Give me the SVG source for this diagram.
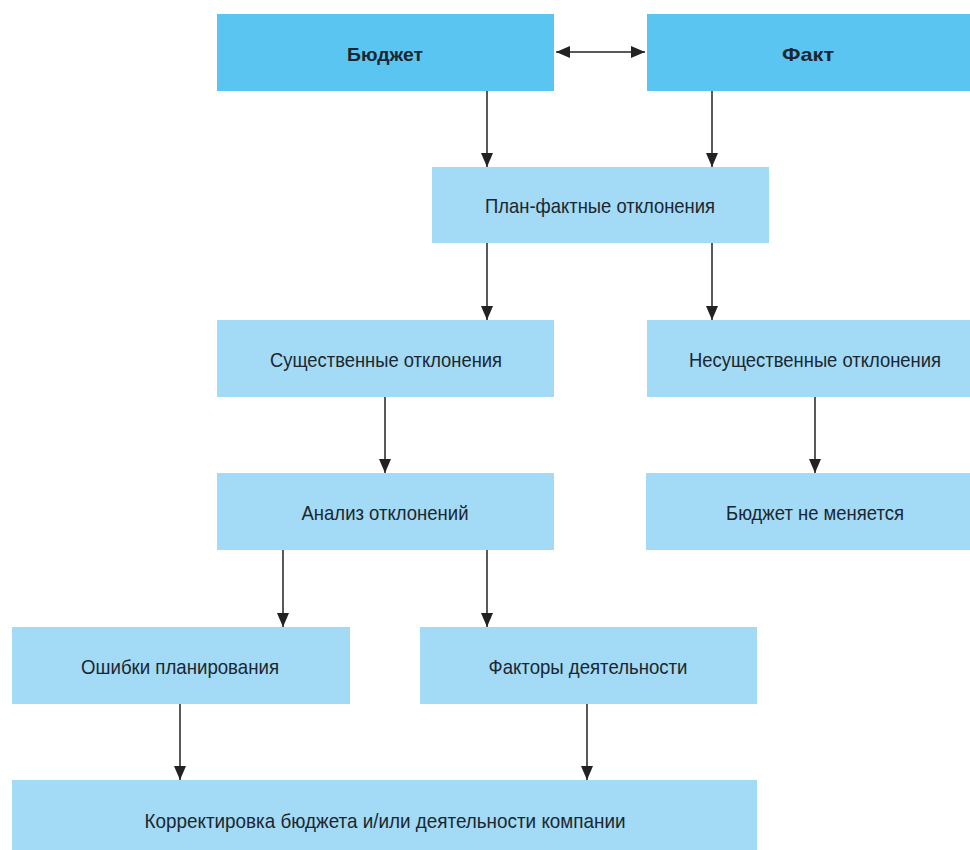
<svg xmlns="http://www.w3.org/2000/svg" width="970" height="850" viewBox="0 0 970 850">
<defs>
<style>
.top{fill:#5BC5F2}
.box{fill:#A3DAF5}
text{font-family:"Liberation Sans Narrow","Liberation Sans",Arial,sans-serif;font-size:21px;fill:#1b2730;text-anchor:middle}
.b{font-weight:bold;font-size:19px}
.c{stroke:#222;stroke-width:1.5;fill:none}
</style>
<marker id="av" viewBox="0 0 14 12" refX="14" refY="6" markerWidth="14" markerHeight="12" markerUnits="userSpaceOnUse" orient="auto-start-reverse">
<path d="M0,0 L14,6 L0,12 z" fill="#222"/>
</marker>
</defs>
<rect width="970" height="850" fill="#fff"/>
<g id="budget"><rect class="top" x="217" y="14" width="337" height="77"/><text class="b" x="385" y="61" textLength="76" lengthAdjust="spacingAndGlyphs">Бюджет</text></g>
<g id="fact"><rect class="top" x="647" y="14" width="323" height="77"/><text class="b" x="808" y="61" textLength="52" lengthAdjust="spacingAndGlyphs">Факт</text></g>
<g id="planfact"><rect class="box" x="432" y="167" width="337" height="76"/><text x="600" y="213" textLength="230" lengthAdjust="spacingAndGlyphs">План-фактные отклонения</text></g>
<g id="significant"><rect class="box" x="217" y="320" width="337" height="77"/><text x="386" y="367" textLength="232" lengthAdjust="spacingAndGlyphs">Существенные отклонения</text></g>
<g id="insignificant"><rect class="box" x="647" y="320" width="323" height="77"/><text x="815" y="367" textLength="252" lengthAdjust="spacingAndGlyphs">Несущественные отклонения</text></g>
<g id="analysis"><rect class="box" x="217" y="473" width="337" height="77"/><text x="385" y="520" textLength="167" lengthAdjust="spacingAndGlyphs">Анализ отклонений</text></g>
<g id="nochange"><rect class="box" x="646" y="473" width="324" height="77"/><text x="815" y="520" textLength="178" lengthAdjust="spacingAndGlyphs">Бюджет не меняется</text></g>
<g id="errors"><rect class="box" x="12" y="627" width="338" height="77"/><text x="180" y="674" textLength="198" lengthAdjust="spacingAndGlyphs">Ошибки планирования</text></g>
<g id="factors"><rect class="box" x="420" y="627" width="337" height="77"/><text x="588" y="674" textLength="199" lengthAdjust="spacingAndGlyphs">Факторы деятельности</text></g>
<g id="correction"><rect class="box" x="12" y="780" width="745" height="70"/><text x="385" y="828" textLength="481" lengthAdjust="spacingAndGlyphs">Корректировка бюджета и/или деятельности компании</text></g>
<g id="connectors">
<path class="c" d="M556,52 H645" marker-start="url(#av)" marker-end="url(#av)"/>
<path class="c" d="M487,91 V167" marker-end="url(#av)"/>
<path class="c" d="M712,91 V167" marker-end="url(#av)"/>
<path class="c" d="M487,243 V320" marker-end="url(#av)"/>
<path class="c" d="M712,243 V320" marker-end="url(#av)"/>
<path class="c" d="M385,397 V473" marker-end="url(#av)"/>
<path class="c" d="M815,397 V473" marker-end="url(#av)"/>
<path class="c" d="M283,550 V627" marker-end="url(#av)"/>
<path class="c" d="M487,550 V627" marker-end="url(#av)"/>
<path class="c" d="M180,704 V780" marker-end="url(#av)"/>
<path class="c" d="M587,704 V780" marker-end="url(#av)"/>
</g>
</svg>
